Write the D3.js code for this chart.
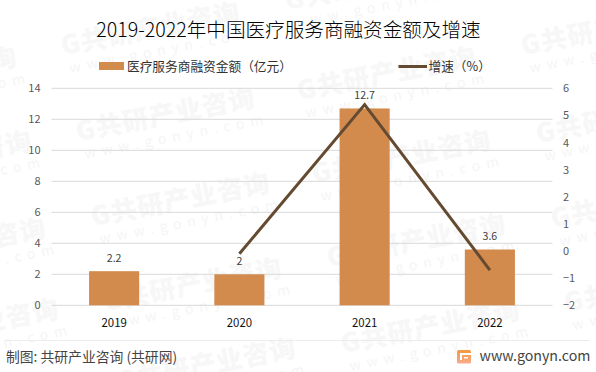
<!DOCTYPE html>
<html>
<head>
<meta charset="utf-8">
<script src="https://d3js.org/d3.v7.min.js"></script>
<style>
  html, body { margin: 0; padding: 0; background: #fff; }
  text { font-family: "Noto Sans CJK SC", "Noto Sans", sans-serif; }
</style>
</head>
<body>
<svg id="chart" width="596" height="372"></svg>
<script>
const years = ['2019', '2020', '2021', '2022']
const amounts = [2.2, 2, 12.7, 3.6]
const growthYears = ['2020', '2021', '2022']
const growth = [-0.1, 5.4, -0.7]
const leftTicks = [0, 2, 4, 6, 8, 10, 12, 14]
const rightTicks = [-2, -1, 0, 1, 2, 3, 4, 5, 6]
// where the faint watermark stamps go
const stampX = [63, 287, 523, -160, 78, 299, 538, -145, 93, 314, 553, -131, 105, 329, 566, -118, 119, 343]
const stampY = [55, 10, 55, 100, 141, 100, 143, 184, 226, 183, 228, 271, 311, 267, 312, 352, 391, 353]

const svg = d3.select('#chart')
const margin = {top: 88.3, right: 43.5, bottom: 66.7, left: 51.5}
const width = 596 - margin.left - margin.right
const height = 372 - margin.top - margin.bottom

// watermark goes underneath everything
const stamps = svg.append('g').selectAll('g')
    .data(stampX.map((x, i) => [x, stampY[i]]))
    .join('g')
    .attr('transform', d => `translate(${d[0]},${d[1]}) rotate(-11)`)
stamps.append('text')
    .attr('font-size', 26).attr('font-weight', 900).attr('fill', '#f7f7f7')
    .attr('letter-spacing', 1)
    .text('G共研产业咨询')
stamps.append('text')
    .attr('x', 4).attr('y', 19)
    .attr('font-size', 14).attr('fill', '#f5f5f5').attr('letter-spacing', 6)
    .text('www.gonyn.com')

// title
svg.append('text')
    .attr('x', 288.5).attr('y', 36.5)
    .attr('text-anchor', 'middle')
    .attr('font-size', 19.6).attr('font-weight', 300).attr('fill', '#000')
    .text('2019-2022年中国医疗服务商融资金额及增速')

// scales
const xScale = d3.scaleBand().domain(years).range([0, width]).paddingInner(0.6).paddingOuter(0.3)
const yLeft = d3.scaleLinear().domain([0, 14]).range([height, 0])
const yRight = d3.scaleLinear().domain([-2, 6]).range([height, 0])

const chart = svg.append('g').attr('transform', `translate(${margin.left},${margin.top})`)

// gridlines
chart.append('g').selectAll('line')
    .data(leftTicks)
    .join('line')
    .attr('x1', 0).attr('x2', width)
    .attr('y1', d => yLeft(d)).attr('y2', d => yLeft(d))
    .attr('stroke', '#d9d9d9').attr('stroke-width', 1)

// axes
const leftAxis = chart.append('g')
    .call(d3.axisLeft(yLeft).tickValues(leftTicks).tickSize(0).tickPadding(11))
const rightAxis = chart.append('g')
    .attr('transform', `translate(${width},0)`)
    .call(d3.axisRight(yRight).tickValues(rightTicks).tickSize(0).tickPadding(10.5))
const bottomAxis = chart.append('g')
    .attr('transform', `translate(0,${height})`)
    .call(d3.axisBottom(xScale).tickSize(0).tickPadding(13.5))
for (const a of [leftAxis, rightAxis, bottomAxis]) a.select('.domain').remove()
leftAxis.selectAll('text').attr('font-size', 11).attr('fill', '#595959').attr('font-family', 'Noto Sans')
rightAxis.selectAll('text').attr('font-size', 11).attr('fill', '#595959').attr('font-family', 'Noto Sans')
bottomAxis.selectAll('text').attr('font-size', 11.4).attr('fill', '#111').attr('font-family', 'Noto Sans')

// bars
chart.selectAll('.bar')
    .data(years.map((y, i) => ({year: y, value: amounts[i]})))
    .join('rect')
    .attr('class', 'bar')
    .attr('x', d => xScale(d.year))
    .attr('y', d => yLeft(d.value))
    .attr('width', xScale.bandwidth())
    .attr('height', d => height - yLeft(d.value))
    .attr('fill', '#d28b4d')

// growth line
const line = d3.line()
    .x(d => xScale(d.year) + xScale.bandwidth() / 2)
    .y(d => yRight(d.value))
chart.append('path')
    .datum(growthYears.map((y, i) => ({year: y, value: growth[i]})))
    .attr('d', line)
    .attr('fill', 'none')
    .attr('stroke', '#654a32').attr('stroke-width', 3)

// bar labels
chart.selectAll('.label')
    .data(years.map((y, i) => ({year: y, value: amounts[i]})))
    .join('text')
    .attr('class', 'label')
    .attr('x', d => xScale(d.year) + xScale.bandwidth() / 2)
    .attr('y', d => yLeft(d.value) - 9.5)
    .attr('text-anchor', 'middle')
    .attr('font-size', 10.6).attr('fill', '#404040').attr('font-family', 'Noto Sans')
    .text(d => d.value)

// legend
svg.append('rect').attr('x', 99).attr('y', 62).attr('width', 25).attr('height', 8).attr('fill', '#d28b4d')
svg.append('text').attr('x', 127).attr('y', 71).attr('font-size', 12.7).attr('fill', '#333')
    .text('医疗服务商融资金额（亿元）')
svg.append('line').attr('x1', 398.5).attr('x2', 427).attr('y1', 66.5).attr('y2', 66.5)
    .attr('stroke', '#654a32').attr('stroke-width', 3)
svg.append('text').attr('x', 428.5).attr('y', 71).attr('font-size', 12.7).attr('fill', '#333')
    .text('增速（%）')

// footer
svg.append('line').attr('x1', 5).attr('x2', 590).attr('y1', 340.5).attr('y2', 340.5)
    .attr('stroke', '#ececec')
svg.append('text').attr('x', 6).attr('y', 362).attr('font-size', 13.8).attr('fill', '#444')
    .text('制图: 共研产业咨询 (共研网)')

// little logo next to the url
const grad = svg.append('defs').append('linearGradient')
    .attr('id', 'logoGrad').attr('x1', 0).attr('x2', 0).attr('y1', 0).attr('y2', 1)
grad.append('stop').attr('offset', 0).attr('stop-color', '#f39a3e')
grad.append('stop').attr('offset', 1).attr('stop-color', '#f8ab8c')
svg.append('rect').attr('x', 457).attr('y', 350).attr('width', 14).attr('height', 13.5).attr('rx', 1.5).attr('fill', 'url(#logoGrad)')
svg.append('rect').attr('x', 460).attr('y', 353).attr('width', 11).attr('height', 2).attr('fill', '#fff')
svg.append('rect').attr('x', 460).attr('y', 353).attr('width', 2).attr('height', 7).attr('fill', '#fff')
svg.append('rect').attr('x', 464).attr('y', 357).attr('width', 4).attr('height', 1.5).attr('fill', '#fff')
svg.append('text').attr('x', 479.5).attr('y', 361).attr('font-size', 14.2).attr('fill', '#444').attr('font-family', 'Noto Sans')
    .text('www.gonyn.com')
</script>
</body>
</html>
